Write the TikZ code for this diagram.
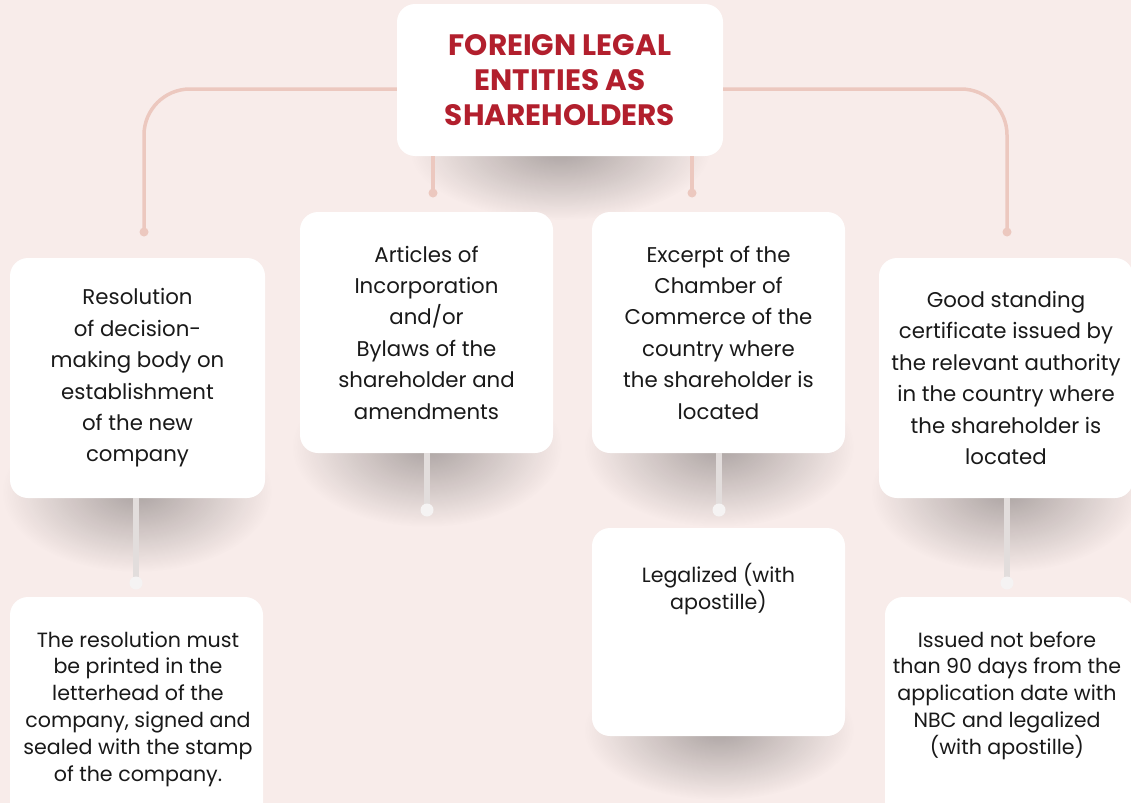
\documentclass[tikz,border=0pt]{standalone}
\usepackage{fontspec}
\setmainfont{Poppins}
\usepackage{tikz}
\usetikzlibrary{positioning, fadings}

\definecolor{bgpink}{HTML}{F8ECEA}
\definecolor{linkpink}{HTML}{ECC8BF}
\definecolor{titlered}{HTML}{B21F2D}
\definecolor{stemgray}{HTML}{E2DDDC}
\definecolor{dotwhite}{HTML}{F5F3F3}

\tikzfading[name=blob, inner color=transparent!0, outer color=transparent!100]

\tikzset{
  card/.style={draw=none, fill=white, rounded corners=18pt, inner sep=0pt},
  titletxt/.style={align=center, font=\fontsize{29.5}{35}\selectfont\bfseries, text=titlered},
  txt/.style={align=center, font=\fontsize{21.3}{31.4}\selectfont, text=black!90},
  smalltxt/.style={align=center, font=\fontsize{20.6}{26.8}\selectfont, text=black!90},
  link/.style={draw=linkpink, line width=3.5pt},
  stem/.style={draw=stemgray, line width=6pt},
  shadowblob/.style={fill=black, opacity=0.3, path fading=blob}
}

\begin{document}
\begin{tikzpicture}[x=1pt, y=-1pt]
  \useasboundingbox (0,0) rectangle (1131,803);
  \fill[bgpink] (0,0) rectangle (1131,803);

  % soft shadows under the cards
  \fill[shadowblob] (560,150) ellipse [x radius=150pt, y radius=70pt];
  \fill[shadowblob] (137,492) ellipse [x radius=135pt, y radius=80pt];
  \fill[shadowblob] (427,447) ellipse [x radius=135pt, y radius=80pt];
  \fill[shadowblob] (719,447) ellipse [x radius=135pt, y radius=80pt];
  \fill[shadowblob] (1006,492) ellipse [x radius=135pt, y radius=80pt];
  \fill[shadowblob] (719,730) ellipse [x radius=135pt, y radius=70pt];

  % cards
  \node[card, titletxt, minimum width=326pt, minimum height=152pt] (title) at (560,80)
    {FOREIGN LEGAL\\ENTITIES AS\\SHAREHOLDERS};
  \node[card, txt, minimum width=255pt, minimum height=240pt] (res) at (137.5,378)
    {Resolution\\of decision-\\making body on\\establishment\\of the new\\company};
  \node[card, txt, minimum width=253pt, minimum height=241pt] (art) at (426.5,332.5)
    {Articles of\\Incorporation\\and/or\\Bylaws of the\\shareholder and\\amendments};
  \node[card, txt, minimum width=253pt, minimum height=241pt] (exc) at (718.5,332.5)
    {Excerpt of the\\Chamber of\\Commerce of the\\country where\\the shareholder is\\located};
  \node[card, txt, minimum width=254pt, minimum height=240pt] (good) at (1006,378)
    {Good standing\\certificate issued by\\the relevant authority\\in the country where\\the shareholder is\\located};
  \node[card, minimum width=253pt, minimum height=240pt] (print) at (136.5,717) {};
  \node[card, minimum width=253pt, minimum height=208pt] (legal) at (718.5,632) {};
  \node[card, minimum width=250pt, minimum height=240pt] (issued) at (1010,717) {};

  \node[smalltxt] (printtxt) at (138,709)
    {The resolution must\\be printed in the\\letterhead of the\\company, signed and\\sealed with the stamp\\of the company.};
  \node[smalltxt, below=32pt of legal.north] (legaltxt)
    {Legalized (with\\apostille)};
  \node[smalltxt] (issuedtxt) at (1007,695.5)
    {Issued not before\\than 90 days from the\\application date with\\NBC and legalized\\(with apostille)};

  % links from the title
  \coordinate (l1) at (144,232);
  \coordinate (l2) at (433,193);
  \coordinate (l3) at (692,193);
  \coordinate (l4) at (1007,232);
  \draw[link, rounded corners=46pt] ([yshift=-9pt]title.west) -| (l1);
  \draw[link, rounded corners=46pt] ([yshift=-9pt]title.east) -| (l4);
  \draw[link] (title.south -| l2) -- (l2);
  \draw[link] (title.south -| l3) -- (l3);
  \foreach \d in {l1,l2,l3,l4}
    \fill[linkpink] (\d) circle (4.5pt);

  % stems to the notes
  \coordinate (s1) at (136,583);
  \coordinate (s2) at (427,510);
  \coordinate (s3) at (719,510);
  \coordinate (s4) at (1007,583);
  \draw[stem] (res.south -| s1) -- (s1);
  \draw[stem] (art.south -| s2) -- (s2);
  \draw[stem] (exc.south -| s3) -- (s3);
  \draw[stem] (good.south -| s4) -- (s4);
  \foreach \d in {s1,s2,s3,s4}
    \fill[dotwhite] (\d) circle (6.5pt);
\end{tikzpicture}
\end{document}
